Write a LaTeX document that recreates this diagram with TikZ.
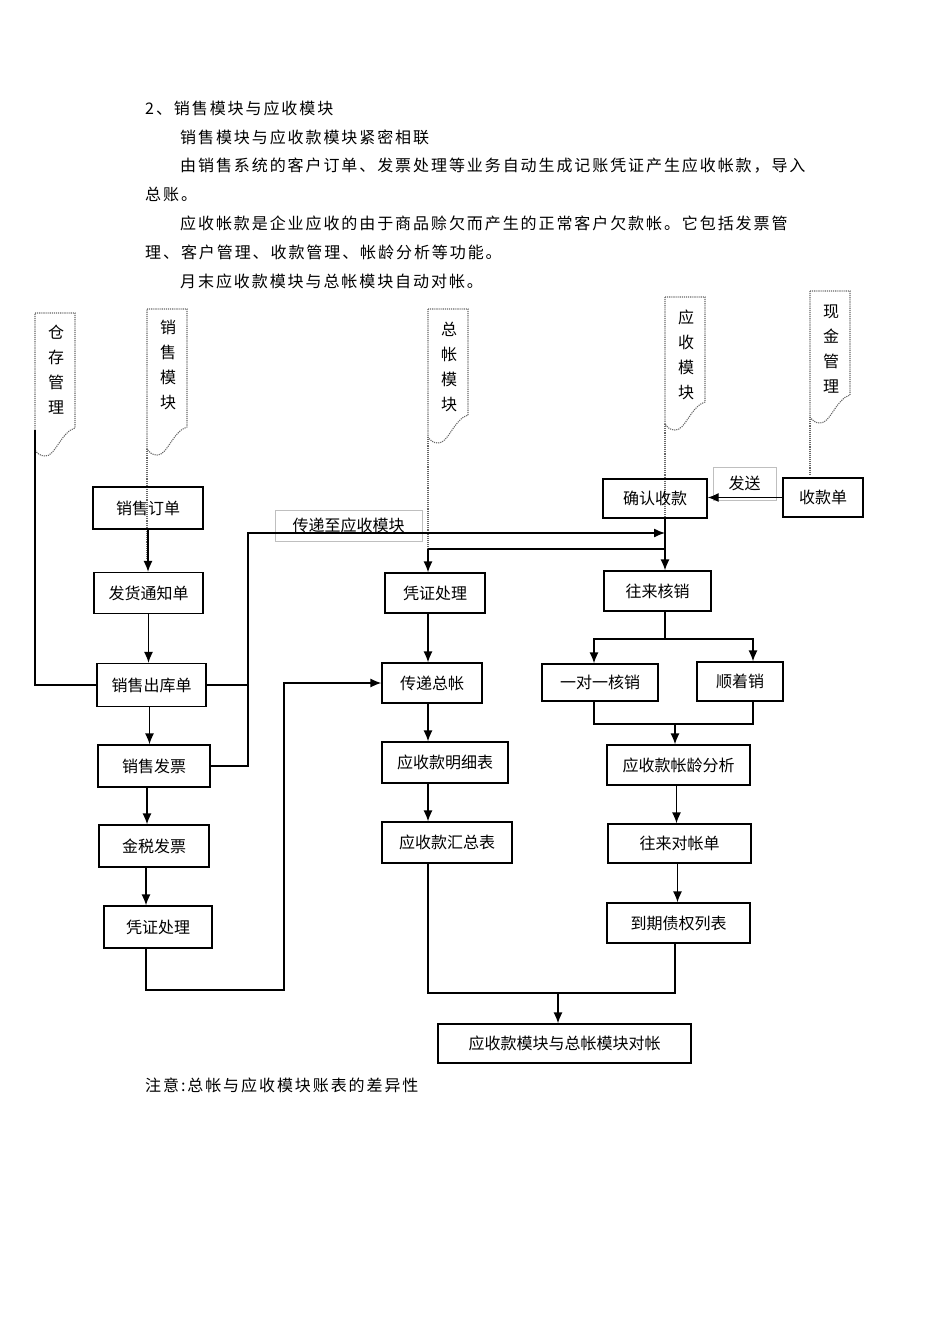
\documentclass[tikz,border=0pt]{standalone}
\usepackage{fontspec}
\setmainfont{Noto Sans CJK SC}
\usetikzlibrary{arrows.meta,positioning}
\newcommand\diafont{\fontsize{16}{20}\selectfont}
\newcommand\parafont{\fontsize{16}{20}\selectfont\addfontfeature{LetterSpace=12}}
\newcommand\flagfont{\fontsize{16}{25}\selectfont}

\begin{document}
\begin{tikzpicture}
[
	            x = 1pt, y = -1pt,
	   line/.style = { draw=black, line width=1.3pt },
	    arr/.style = { line, -{Latex[length=11pt,width=9pt]} },
	    box/.style 2 args = { draw=black, line width=1.3pt, inner sep=0pt,
	                          minimum width=#1pt, minimum height=#2pt, font=\diafont },
	  guide/.style = { draw=black!60, densely dotted, line width=1.1pt },
	   flag/.style = { align=center, inner sep=0pt, font=\flagfont },
	    tag/.style 2 args = { draw=black!25, line width=0.7pt, inner sep=0pt,
	                          minimum width=#1pt, minimum height=#2pt, font=\diafont },
	   para/.style = { anchor=west, inner sep=0pt, font=\parafont }
]
	\useasboundingbox (0,0) rectangle (950,1344);

	% text above the chart
	\node (title) at (145,108) [para] {2、销售模块与应收模块};
	\node (p1)    at (180,137) [para] {销售模块与应收款模块紧密相联};
	\node (p2a)   at (180,166) [para] {由销售系统的客户订单、发票处理等业务自动生成记账凭证产生应收帐款，导入};
	\node (p2b)   at (145,194) [para] {总账。};
	\node (p3a)   at (180,223) [para] {应收帐款是企业应收的由于商品赊欠而产生的正常客户欠款帐。它包括发票管};
	\node (p3b)   at (145,252) [para] {理、客户管理、收款管理、帐龄分析等功能。};
	\node (p4)    at (180,281) [para] {月末应收款模块与总帐模块自动对帐。};

	% module flags with their guide lines
	\foreach \fx/\ftop/\fend/\gend in {35/313/428/452, 147/309/427/560, 428/309/415/549, 665/297/402/533, 810/291/395/474}
	{
		\draw [guide] (\fx,\ftop) -- ({\fx+40},\ftop) -- ({\fx+40},\fend)
			.. controls ({\fx+26},{\fend+4}) and ({\fx+20},{\fend+29}) .. ({\fx+10},{\fend+28})
			.. controls ({\fx+5},{\fend+28}) and ({\fx+2},{\fend+25}) .. (\fx,{\fend+22}) -- cycle;
		\draw [guide] (\fx,{\fend+22}) -- (\fx,\gend);
	}
	\node (store) at (56,370)  [flag] {仓\\存\\管\\理};
	\node (sales) at (168,365) [flag] {销\\售\\模\\块};
	\node (gl)    at (449,367) [flag] {总\\帐\\模\\块};
	\node (ar)    at (686,355) [flag] {应\\收\\模\\块};
	\node (cash)  at (831,349) [flag] {现\\金\\管\\理};

	% sales side
	\node (order)    at (148,508)   [box={110}{42}] {销售订单};
	\node (notice)   at (148.5,593) [box={109}{41}] {发货通知单};
	\node (stockout) at (151.5,685) [box={109}{43}] {销售出库单};
	\node (invoice)  at (154,766)   [box={112}{42}] {销售发票};
	\node (taxinv)   at (154,846)   [box={110}{42}] {金税发票};
	\node (voucherL) at (158,927)   [box={108}{42}] {凭证处理};

	% general ledger side
	\node (voucherM) at (435,593)   [box={100}{40}] {凭证处理};
	\node (togl)     at (432,683)   [box={100}{40}] {传递总帐};
	\node (detail)   at (445,762.5) [box={126}{41}] {应收款明细表};
	\node (summary)  at (447,842.5) [box={130}{41}] {应收款汇总表};

	% receivables side
	\node (confirm)  at (655,498.5) [box={104}{39}] {确认收款};
	\node (receipt)  at (823,497.5) [box={80}{39}]  {收款单};
	\node (writeoff) at (657.5,591) [box={107}{40}] {往来核销};
	\node (onetoone) at (600,682.5) [box={116}{37}] {一对一核销};
	\node (seqoff)   at (740,681.5) [box={86}{39}]  {顺着销};
	\node (aging)    at (678.5,765) [box={143}{40}] {应收款帐龄分析};
	\node (stmt)     at (679.5,843.5) [box={143}{39}] {往来对帐单};
	\node (due)      at (678.5,923) [box={143}{40}] {到期债权列表};

	\node (check)    at (564.5,1043.5) [box={253}{39}] {应收款模块与总帐模块对帐};

	% labels on connectors
	\node (sendtag) at (348.5,525.5) [tag={147}{31}] {传递至应收模块};
	\node (posttag) at (744.5,483.5) [tag={63}{33}]  {发送};

	% turning points
	\coordinate (storeend) at (35,430);
	\coordinate (bend)     at (248,533);
	\coordinate (arin)     at (665,533);
	\coordinate (glin)     at (665,549);
	\coordinate (glbend)   at (428,549);
	\coordinate (lowL)     at (284,990);
	\coordinate (join)     at (558,993);
	\coordinate (split)    at (665,639);
	\coordinate (sl)       at (594,639);
	\coordinate (sr)       at (753,639);
	\coordinate (merge)    at (675,724);

	% sales flow
	\draw [line] (storeend) |- (stockout.west);
	\draw [arr] (order.south) -- (order.south |- notice.north);
	\draw [arr] (notice.south) -- (notice.south |- stockout.north);
	\draw [arr] ([xshift=-2pt]stockout.south) -- ([xshift=-2pt]stockout.south |- invoice.north);
	\draw [arr] ([xshift=-7pt]invoice.south) -- ([xshift=-7pt]invoice.south |- taxinv.north);
	\draw [arr] ([xshift=-8pt]taxinv.south) -- ([xshift=-8pt]taxinv.south |- voucherL.north);
	\draw [arr] (stockout.east) -| (bend) -- (arin);
	\draw [line] (invoice.east) -| (bend);
	\draw [arr] ([xshift=-12pt]voucherL.south) |- (lowL) |- (togl.west);

	% ledger flow
	\draw [line] (arin |- confirm.south) -- (glin) -- (glbend);
	\draw [arr] (glbend) -- (glbend |- voucherM.north);
	\draw [arr] (glbend |- voucherM.south) -- (glbend |- togl.north);
	\draw [arr] (glbend |- togl.south) -- (glbend |- detail.north);
	\draw [arr] (glbend |- detail.south) -- (glbend |- summary.north);
	\draw [line] (glbend |- summary.south) |- (join) -| (merge |- due.south);
	\draw [arr] (join) -- (join |- check.north);

	% receivables flow
	\draw [arr] (receipt.west) -- (receipt.west -| confirm.east);
	\draw [arr] (glin) -- (glin |- writeoff.north);
	\draw [line] (split |- writeoff.south) -- (split);
	\draw [arr] (split) -- (sl) -- (sl |- onetoone.north);
	\draw [arr] (split) -- (sr) -- (sr |- seqoff.north);
	\draw [line] (sl |- onetoone.south) |- (merge) -| (sr |- seqoff.south);
	\draw [arr] (merge) -- (merge |- aging.north);
	\draw [arr] ([xshift=-2pt]aging.south) -- ([xshift=-2pt]aging.south |- stmt.north);
	\draw [arr] ([xshift=-2pt]stmt.south) -- ([xshift=-2pt]stmt.south |- due.north);

	% note below the chart
	\node (note) at (145,1085) [para] {注意:总帐与应收模块账表的差异性};
\end{tikzpicture}
\end{document}
